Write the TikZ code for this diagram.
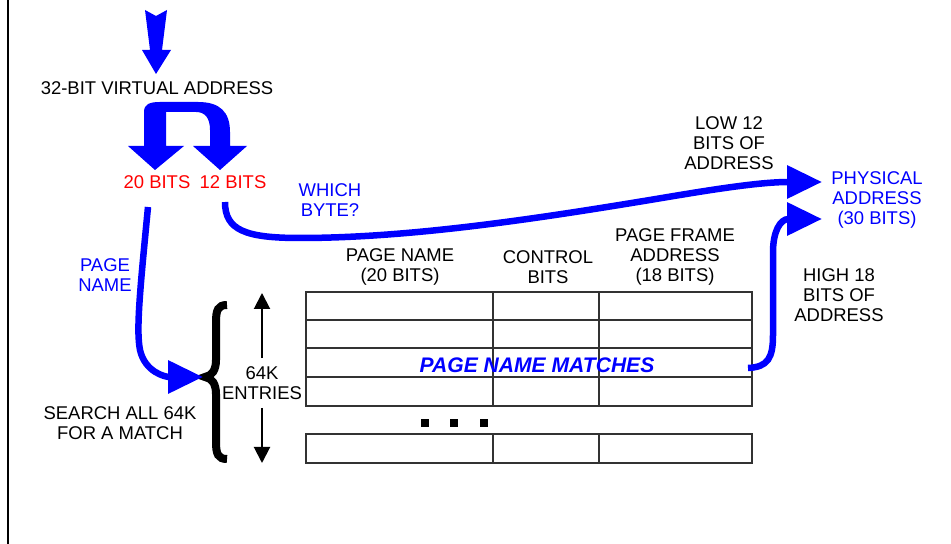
\documentclass[tikz,border=0pt]{standalone}
\usepackage{fontspec}
\setmainfont{Liberation Sans}
\usetikzlibrary{arrows.meta}
\definecolor{pblue}{RGB}{0,0,255}
\definecolor{pred}{RGB}{255,0,0}
\definecolor{tgray}{RGB}{50,50,50}

\begin{document}
\begin{tikzpicture}[x=0.2mm, y=-0.2mm,
    lbl/.style={font=\fontsize{10.5}{11.4}\selectfont, align=center, inner sep=0pt},
    bluelbl/.style={lbl, text=pblue},
    redlbl/.style={lbl, text=pred},
    flow/.style={draw=pblue, line width=1.3mm, -{Triangle[length=7mm,width=6.4mm]}},
    cell/.style={draw=tgray, line width=0.3mm}]
    \useasboundingbox (0,0) rectangle (951,544);
    \draw[line width=0.5mm] (8,0) -- (8,544);

    % incoming address and split
    \fill[pblue] (145,10) -- (156,16) -- (167,10) -- (162,50) -- (171,50) -- (156,74) -- (142,50) -- (150,50) -- cycle;
    \node[lbl] at (157,88) (vaddr) {32-BIT VIRTUAL ADDRESS};
    \fill[pblue] (144,146) -- (144,112) .. controls (144,104) and (150,102) .. (160,102) -- (198,102)
        .. controls (220,102) and (230,112) .. (230,132) -- (230,146) -- (247,146) -- (220,170) -- (193,146)
        -- (210,146) -- (210,130) .. controls (210,118) and (205,112) .. (196,112) -- (166,112) -- (166,146)
        -- (184,146) -- (155,170) -- (128,146) -- cycle;
    \node[redlbl] at (157,182) (twenty) {20 BITS};
    \node[redlbl] at (233,182) (twelve) {12 BITS};

    \node[bluelbl] at (330,200) (which) {WHICH\\BYTE?};
    \node[bluelbl] at (105,275) (pname) {PAGE\\NAME};
    \node[lbl] at (120,423) (search) {SEARCH ALL 64K\\FOR A MATCH};
    \node[lbl, inner ysep=1.6mm] at (262,383) (entries) {64K\\ENTRIES};
    \node[lbl] at (400,267) (colname) {PAGE NAME\\(20 BITS)};
    \node[lbl] at (548,267) (colctrl) {CONTROL\\BITS};
    \node[lbl] at (675,257) (colframe) {PAGE FRAME\\ADDRESS\\(18 BITS)};
    \node[lbl] at (729,143) (low) {LOW 12\\BITS OF\\ADDRESS};
    \node[bluelbl] at (877,200) (phys) {PHYSICAL\\ADDRESS\\(30 BITS)};
    \node[lbl] at (839,295) (high) {HIGH 18\\BITS OF\\ADDRESS};

    % the table
    \foreach \t/\b in {292/406, 434/463} {
        \draw[cell] (306,\t) rectangle (752,\b);
        \foreach \x in {493,599}
            \draw[cell] (\x,\t) -- (\x,\b);
    }
    \foreach \y in {320,348,377}
        \draw[cell] (306,\y) -- (752,\y);
    \foreach \x in {425,454,484}
        \fill (\x-4,419) rectangle (\x+4,427);
    \node[font=\fontsize{12}{13}\selectfont\bfseries\itshape, text=pblue, inner sep=0pt] at (537,365) (matches) {PAGE NAME MATCHES};

    % brace and entry count
    \draw[line width=1.6mm] (227,305) .. controls (218,305) and (216,310) .. (216,322) -- (216,360)
        .. controls (216,370) and (212,376) .. (205,377) .. controls (212,378) and (216,384) .. (216,394)
        -- (216,442) .. controls (216,454) and (218,459) .. (227,459);
    \coordinate (etop) at (262,293);
    \coordinate (ebot) at (262,463);
    \draw[line width=0.4mm, -{Triangle[length=3.2mm,width=3.2mm]}] (entries) -- (etop);
    \draw[line width=0.4mm, -{Triangle[length=3.2mm,width=3.2mm]}] (entries) -- (ebot);

    % flows
    \coordinate (pnstart) at (148,207);
    \coordinate (bracetip) at (203,377);
    \coordinate (lowstart) at (225,202);
    \coordinate (physlow) at (822,182);
    \coordinate (hitstart) at (748,368);
    \coordinate (physhigh) at (822,219);
    \draw[flow] (pnstart) .. controls (140,290) and (136,330) .. (140,350)
        .. controls (145,372) and (165,377) .. (bracetip);
    \draw[flow] (lowstart) .. controls (225,230) and (245,238) .. (300,238)
        .. controls (420,238) and (560,215) .. (680,195) .. controls (740,185) and (770,182) .. (physlow);
    \draw[flow] (hitstart) .. controls (768,367) and (773,358) .. (773,335) -- (773,252)
        .. controls (773,232) and (780,219) .. (physhigh);
\end{tikzpicture}
\end{document}
